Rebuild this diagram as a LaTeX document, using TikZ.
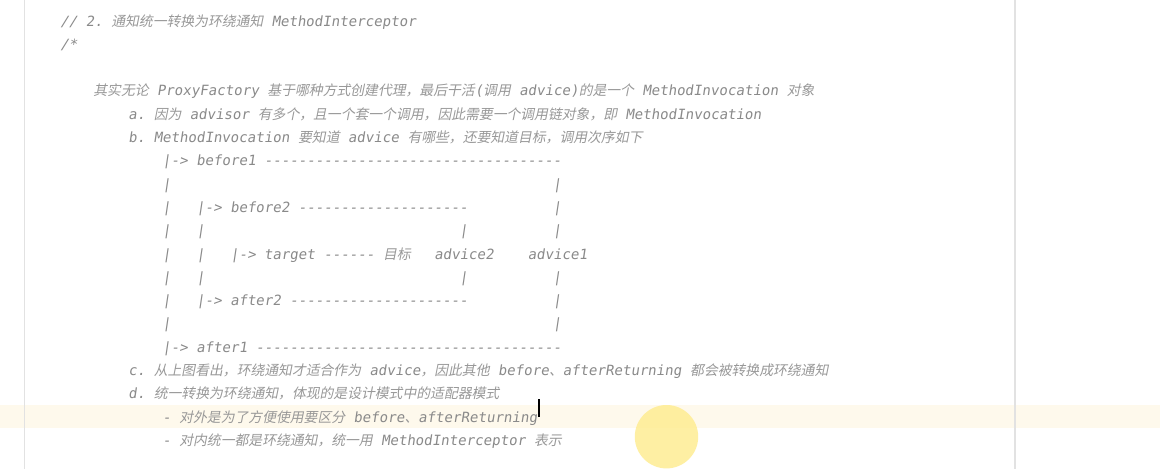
\documentclass[tikz,border=0pt]{standalone}
\usepackage{fontspec}
\setmonofont{DejaVu Sans Mono}[FakeSlant=0.15]
\newfontfamily\cjkfont{Noto Sans CJK SC}[FakeSlant=0.2,Scale=0.98]

\definecolor{codegray}{RGB}{138,138,138}
\definecolor{cjkgray}{RGB}{152,152,152}
\definecolor{hlband}{RGB}{254,249,236}
\definecolor{marker}{RGB}{254,236,140}
\definecolor{gutter}{RGB}{226,226,226}

\newcommand\zh[1]{{\cjkfont\color{cjkgray}#1}}
\newcommand\blanks[1]{\hspace*{#1\fontcharwd\font`0}}
\newcommand\dashrun[1]{\foreach\k in {1,...,#1}{-}}

\tikzset{every picture/.style={line width=0.75pt}}
\tikzset{codeline/.style={anchor=base west,inner sep=0pt,text=codegray,font=\fontsize{14.1}{17}\selectfont\ttfamily}}

\begin{document}
\begin{tikzpicture}[x=1pt,y=1pt,yscale=-1,xscale=1]
		\useasboundingbox[fill=white] (0,0) rectangle (1160,469);
		
		%Shape: Rectangle [current line]
		\fill[hlband] (0,405) rectangle (1160,428);
		%Shape: Line [gutters]
		\draw[gutter,line width=1pt] (24,0) -- (24,469);
		\draw[gutter,line width=2pt] (1015,0) -- (1015,469);
		%Shape: Circle [pointer]
		\fill[marker,opacity=0.8] (666.5,436.7) circle (31.7);
		
		\node[codeline] (hdr) at (60,26) {//~2.~\zh{通知统一转换为环绕通知} MethodInterceptor};
		\node[codeline] (open) at (60,49.3) {/*};
		\node[codeline] (intro) at (93,95.9) {\zh{其实无论} ProxyFactory \zh{基于哪种方式创建代理，最后干活}(\zh{调用} advice)\zh{的是一个} MethodInvocation \zh{对象}};
		\node[codeline] (ita) at (128,119.2) {a.~\zh{因为} advisor \zh{有多个，且一个套一个调用，因此需要一个调用链对象，即} MethodInvocation};
		\node[codeline] (itb) at (128,142.5) {b.~MethodInvocation \zh{要知道} advice \zh{有哪些，还要知道目标，调用次序如下}};
		
		%call order
		\node[codeline] (before1) at (162,165.8) {|->~before1~\dashrun{35}};
		\node[codeline] (d2) at (162,189.1) {|\blanks{45}|};
		\node[codeline] (before2) at (162,212.4) {|\blanks{3}|->~before2~\dashrun{20}\blanks{10}|};
		\node[codeline] (d4) at (162,235.7) {|\blanks{3}|\blanks{30}|\blanks{10}|};
		\node[codeline] (target) at (162,259) {|\blanks{3}|\blanks{3}|->~target~------~\zh{目标}};
		\node[codeline] (adv2) at (434,259) {advice2};
		\node[codeline] (adv1) at (527.5,259) {advice1};
		\node[codeline] (d6) at (162,282.3) {|\blanks{3}|\blanks{30}|\blanks{10}|};
		\node[codeline] (after2) at (162,305.6) {|\blanks{3}|->~after2~\dashrun{21}\blanks{10}|};
		\node[codeline] (d8) at (162,328.9) {|\blanks{45}|};
		\node[codeline] (after1) at (162,352.2) {|->~after1~\dashrun{36}};
		
		\node[codeline] (itc) at (128,375.5) {c.~\zh{从上图看出，环绕通知才适合作为} advice\zh{，因此其他} before\zh{、}afterReturning \zh{都会被转换成环绕通知}};
		\node[codeline] (itd) at (128,398.8) {d.~\zh{统一转换为环绕通知，体现的是设计模式中的适配器模式}};
		\node[codeline] (sub1) at (162,422.1) {-~\zh{对外是为了方便使用要区分} before\zh{、}afterReturning};
		\node[codeline] (sub2) at (162,445.4) {-~\zh{对内统一都是环绕通知，统一用} MethodInterceptor \zh{表示}};
		
		%Shape: Line [caret]
		\draw[black,line width=2.2pt] ([xshift=1.5pt,yshift=-5pt]sub1.base east) -- ++(0,-18);
		
\end{tikzpicture}
\end{document}
